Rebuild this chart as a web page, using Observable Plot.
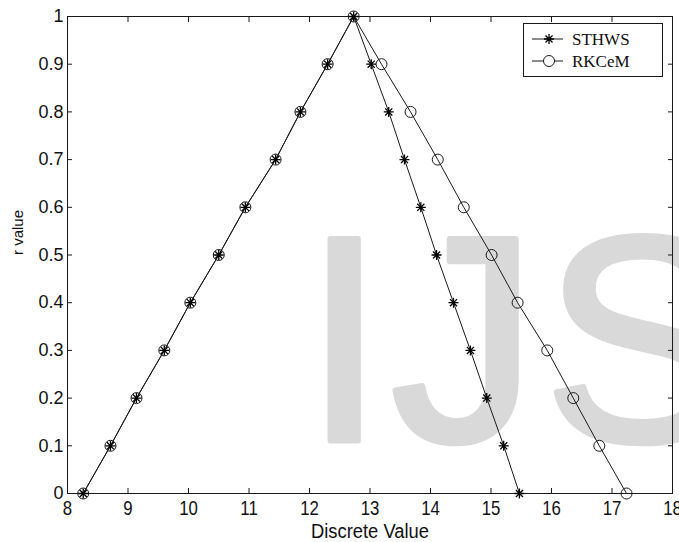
<!DOCTYPE html>
<html><head><meta charset="utf-8">
<script src="https://cdn.jsdelivr.net/npm/d3@7"></script>
<script src="https://cdn.jsdelivr.net/npm/@observablehq/plot@0.6"></script>
<style>
html,body{margin:0;padding:0;background:#fff;overflow:hidden;}
#wrap{position:relative;width:679px;height:542px;}
#legend{position:absolute;left:523px;top:23px;}
</style></head><body><div id="wrap"></div>
<script>
// r values (y) of the rising part, shared by both methods
const rUp = [0, 0.1, 0.2, 0.3, 0.4, 0.5, 0.6, 0.7, 0.8, 0.9, 1.0];
const leftX = [8.26, 8.71, 9.14, 9.60, 10.03, 10.50, 10.94, 11.44, 11.85, 12.30, 12.73];
// falling part, r from 0.9 down to 0
const rDown = [0.9, 0.8, 0.7, 0.6, 0.5, 0.4, 0.3, 0.2, 0.1, 0];
const sthwsRightX = [13.02, 13.31, 13.57, 13.84, 14.10, 14.38, 14.66, 14.93, 15.21, 15.47];
const rkcemRightX = [13.19, 13.67, 14.12, 14.55, 15.01, 15.44, 15.93, 16.36, 16.79, 17.24];
const seriesNames = ["STHWS", "RKCeM"];
const xTicks = [8, 9, 10, 11, 12, 13, 14, 15, 16, 17, 18];
const yTicks = [0, 0.1, 0.2, 0.3, 0.4, 0.5, 0.6, 0.7, 0.8, 0.9, 1];
const xLabel = "Discrete Value";
const yLabel = "r value";
const watermark = "IJS";

const build = (xsUp, xsDown) =>
  xsUp.map((x, i) => ({x, y: rUp[i]})).concat(xsDown.map((x, i) => ({x, y: rDown[i]})));
const sthws = build(leftX, sthwsRightX);
const rkcem = build(leftX, rkcemRightX);

const star = {
  draw(ctx, size) {
    const r = Math.sqrt(size / Math.PI), d = r * Math.SQRT1_2;
    ctx.moveTo(-r, 0); ctx.lineTo(r, 0);
    ctx.moveTo(0, -r); ctx.lineTo(0, r);
    ctx.moveTo(-d, -d); ctx.lineTo(d, d);
    ctx.moveTo(-d, d); ctx.lineTo(d, -d);
  }
};
const ink = "#1a1a1a";
const sans = "'Liberation Sans', Arial, sans-serif";

const chart = Plot.plot({
  width: 679,
  height: 542,
  marginLeft: 67,
  marginRight: 7,
  marginTop: 16,
  marginBottom: 49,
  style: {fontFamily: sans, fontSize: "15px", color: "#111", overflow: "hidden", background: "#fff"},
  x: {domain: [8, 18]},
  y: {domain: [0, 1]},
  marks: [
    Plot.text([watermark], {text: d => d, frameAnchor: "bottom-left", dx: 236, dy: -53, textAnchor: "start", lineAnchor: "bottom", fontSize: 293, fill: "#d9d9d9", stroke: "#d9d9d9", strokeWidth: 6, fontFamily: sans}),
    Plot.frame({stroke: ink, strokeWidth: 1}),
    Plot.axisX({anchor: "bottom", ticks: xTicks, tickSize: -5, tickPadding: 12, tickFormat: d => String(d), label: null, fontSize: 21, stroke: ink}),
    Plot.axisX({anchor: "top", ticks: xTicks, tickSize: -5, tickFormat: () => "", label: null, stroke: ink}),
    Plot.axisY({anchor: "left", ticks: yTicks, tickSize: -5, tickPadding: 9, tickFormat: d => (d === 0 || d === 1) ? String(d) : d.toFixed(1), label: null, fontSize: 18, stroke: ink}),
    Plot.axisY({anchor: "right", ticks: yTicks, tickSize: -5, tickFormat: () => "", label: null, stroke: ink}),
    Plot.text([xLabel], {text: d => d, frameAnchor: "bottom", dy: 38, lineAnchor: "middle", fontSize: 20, fill: "#111"}),
    Plot.text([yLabel], {text: d => d, frameAnchor: "left", dx: -49, rotate: -90, lineAnchor: "middle", fontSize: 15, fill: "#111"}),
    Plot.line(sthws, {x: "x", y: "y", stroke: ink, strokeWidth: 1}),
    Plot.line(rkcem, {x: "x", y: "y", stroke: ink, strokeWidth: 1}),
    Plot.dot(rkcem, {x: "x", y: "y", symbol: "circle", r: 5.5, stroke: ink, fill: "none", strokeWidth: 1}),
    Plot.dot(sthws, {x: "x", y: "y", symbol: star, r: 5, stroke: "#000", fill: "none", strokeWidth: 1.3})
  ]
});
const wrap = document.getElementById("wrap");
wrap.appendChild(chart);

// post-render text tweaks: drop empty labels of the mirrored axes, condense x texts, space the watermark
d3.select(chart).selectAll("text").filter(function() { return this.textContent === ""; }).remove();
d3.select(chart).selectAll("text").each(function() {
  const t = this.textContent;
  if (t === watermark) { this.style.letterSpacing = "6px"; return; }
  if (xTicks.map(String).includes(t) && +this.getAttribute("font-size") !== 18 && this.closest("g[aria-label='x-axis tick label']")) {
    const w = this.getComputedTextLength();
    if (w > 0) { this.setAttribute("textLength", w * 0.8); this.setAttribute("lengthAdjust", "spacingAndGlyphs"); }
  }
  if (t === xLabel) {
    const w = this.getComputedTextLength();
    this.setAttribute("textLength", Math.min(w, 118)); this.setAttribute("lengthAdjust", "spacingAndGlyphs");
  }
});

// legend box (inside plot, top-right)
const lg = d3.select(wrap).append("svg").attr("id", "legend").attr("width", 141).attr("height", 55);
lg.append("rect").attr("x", 0.5).attr("y", 0.5).attr("width", 139).attr("height", 53).attr("fill", "#fff").attr("stroke", ink);
seriesNames.forEach((name, i) => {
  const cy = 16 + i * 22;
  lg.append("line").attr("x1", 9).attr("x2", 40).attr("y1", cy).attr("y2", cy).attr("stroke", ink);
  if (i === 0) {
    const p = d3.path(); star.draw(p, Math.PI * 25);
    lg.append("path").attr("d", p.toString()).attr("transform", `translate(26,${cy})`).attr("stroke", "#000").attr("stroke-width", 1.3).attr("fill", "none");
  } else {
    lg.append("circle").attr("cx", 26).attr("cy", cy).attr("r", 5.5).attr("stroke", ink).attr("fill", "#fff");
  }
  lg.append("text").attr("x", 49).attr("y", cy + 6).text(name)
    .attr("font-family", "'Liberation Serif', 'Times New Roman', serif").attr("font-size", 17).attr("fill", "#111");
});
</script>
</body></html>
